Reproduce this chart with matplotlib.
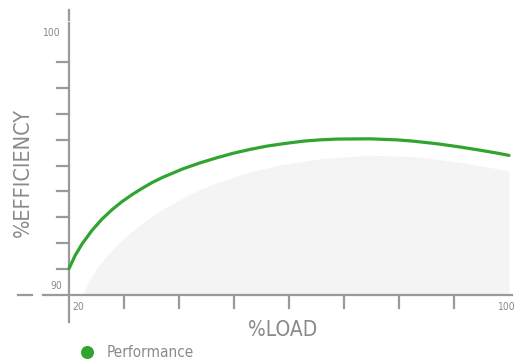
import matplotlib
matplotlib.use("Agg")
import matplotlib.pyplot as plt

# Data
load = [20.0, 21.1, 22.4, 24.2, 26.0, 27.8, 29.6, 31.5, 33.3, 35.1, 36.9, 40.7,
        43.8, 46.9, 49.8, 52.9, 56.0, 59.6, 62.6, 65.6, 68.7, 74.7, 79.6, 82.6,
        86.9, 90.6, 94.2, 97.8, 100.0]
efficiency = [91.02, 91.52, 91.98, 92.50, 92.93, 93.29, 93.60, 93.88, 94.12, 94.34,
              94.53, 94.87, 95.10, 95.30, 95.47, 95.62, 95.75, 95.86, 95.94, 95.99,
              96.02, 96.03, 95.99, 95.94, 95.84, 95.73, 95.61, 95.48, 95.39]

# light grey backdrop shape
bg_load = [22.6, 23.0, 23.7, 25.0, 26.8, 28.8, 31.2, 34.0, 37.2, 40.7, 43.9, 47.2,
           52.9, 58.4, 65.6, 74.7, 83.8, 91.1, 100.0]
bg_eff = [90.0, 90.28, 90.58, 91.0, 91.5, 91.95, 92.42, 92.88, 93.33, 93.75,
          94.08, 94.36, 94.75, 95.02, 95.26, 95.40, 95.33, 95.12, 94.80]

x_ticks = [30, 40, 50, 60, 70, 80, 90]
y_ticks = [91, 92, 93, 94, 95, 96, 97, 98, 99]

green = "#2fa52f"
axis_grey = "#9a9a9a"
text_grey = "#8a8a8a"
fam = ["Liberation Sans Narrow", "DejaVu Sans"]

W, H = 516, 361
fig = plt.figure(figsize=(W / 100, H / 100), dpi=100)
ax = fig.add_axes([0, 0, 1, 1])

# pixel mapping: load 20 -> x=69, 100 -> x=509 ; eff 90 -> y=295, 1% = 25.9 px
px_x = 5.5
px_y = 25.9
x0 = 20 - 69 / px_x
ax.set_xlim(x0, 20 + (W - 69) / px_x)
ax.set_ylim(90 - (H - 295) / px_y, 90 + 295 / px_y)
for s in ax.spines.values():
    s.set_visible(False)
ax.set_xticks([])
ax.set_yticks([])

# background shape
ax.fill_between(bg_load, bg_eff, 90, color="#f4f4f4", lw=0, zorder=1)

# axis lines
lw = 1.6
ax.plot([20, 20], [90 - 27 / px_y, 90 + 272 / px_y], color=axis_grey, lw=lw, zorder=2)
ax.plot([20, 20], [90 + 275 / px_y, 90 + 285 / px_y], color=axis_grey, lw=lw, zorder=2)
ax.plot([20 - 26 / px_x, 100.5], [90, 90], color=axis_grey, lw=lw, zorder=2)
ax.plot([20 - 51 / px_x, 20 - 37 / px_x], [90, 90], color=axis_grey, lw=lw, zorder=2)

# ticks
for t in y_ticks:
    ax.plot([20 - 12 / px_x, 20], [t, t], color=axis_grey, lw=lw, zorder=2)
for t in x_ticks:
    ax.plot([t, t], [90, 90 - 13 / px_y], color=axis_grey, lw=lw, zorder=2)

# curve
ax.plot(load, efficiency, color=green, lw=2.3, solid_capstyle="round",
        solid_joinstyle="round", zorder=3)

# tick labels
tk = dict(fontsize=7.5, color=text_grey, family=fam, stretch="condensed")
ax.text(20 - 9 / px_x, 100.1, "100", ha="right", va="center", **tk)
ax.text(20 - 7 / px_x, 90 + 9 / px_y, "90", ha="right", va="center", **tk)
ax.text(20 + 3 / px_x, 90 - 12 / px_y, "20", ha="left", va="center", **tk)
ax.text(x0 + 515 / px_x, 90 - 12 / px_y, "100", ha="right", va="center", **tk)

# axis labels
lab = dict(fontsize=15, color=text_grey, family=fam, stretch="condensed")
ax.text(x0 + 283 / px_x, 90 - 35 / px_y, "%LOAD", ha="center", va="center", **lab)
ax.text(20 - 46 / px_x, 90 + 123 / px_y, "%EFFICIENCY", ha="center", va="center",
        rotation=90, fontsize=15.5, color=text_grey, family=fam, stretch="condensed")

# legend
ax.scatter([x0 + 87 / px_x], [90 - 57 / px_y], s=70, color=green, zorder=3,
           clip_on=False)
ax.text(x0 + 107 / px_x, 90 - 57 / px_y, "Performance", ha="left", va="center",
        fontsize=11, color=text_grey, family=fam, stretch="condensed")

fig.savefig("out.png", dpi=100)
